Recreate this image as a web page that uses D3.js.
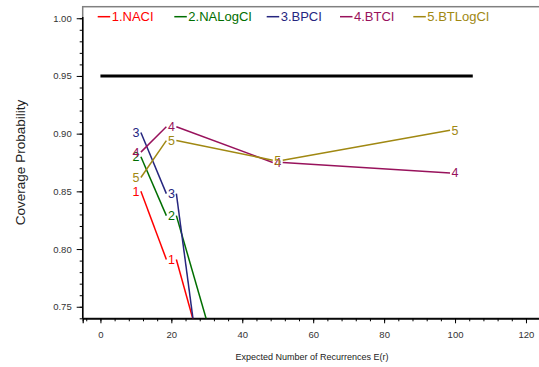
<!DOCTYPE html>
<html>
<head>
<meta charset="utf-8">
<script src="https://cdn.jsdelivr.net/npm/d3@7"></script>
<style>
  html, body { margin: 0; padding: 0; background: #fff; }
  svg { display: block; font-family: Arial, "Liberation Sans", sans-serif; }
</style>
</head>
<body>
<svg id="chart" width="539" height="367"></svg>
<script>
// ---------- data ----------
const xValues = [10, 20, 50, 100];
const seriesNames = ["1.NACI", "2.NALogCI", "3.BPCI", "4.BTCI", "5.BTLogCI"];
const seriesSymbols = ["1", "2", "3", "4", "5"];
const naci     = [0.850, 0.791, 0.49, null];
const naLogCI  = [0.880, 0.829, 0.54, null];
const bpci     = [0.901, 0.848, 0.22, null];
const btci     = [0.884, 0.906, 0.875, 0.866];
const btLogCI  = [0.862, 0.894, 0.877, 0.903];
const seriesColors = ["#ff0000", "#006e00", "#26267f", "#98125c", "#a08812"];
const referenceLevel = 0.95;
const referenceSpan = [0, 105];
const xTickValues = [0, 20, 40, 60, 80, 100, 120];
const yTickValues = [0.75, 0.80, 0.85, 0.90, 0.95, 1.00];
const xLabel = "Expected Number of Recurrences E(r)";
const yLabel = "Coverage Probability";

const allSeries = [naci, naLogCI, bpci, btci, btLogCI];

(function () {
// ---------- layout ----------
const svg = d3.select("#chart");
const pLeft = 82.7, pRight = 543.7, pTop = 6.7, pBottom = 318.3;
const x = d3.scaleLinear().domain([-5, 125]).range([pLeft, pRight]);
const y = d3.scaleLinear().domain([0.74, 1.01]).range([pBottom, pTop]);

svg.append("defs").append("clipPath").attr("id", "plotclip")
  .append("rect").attr("x", pLeft).attr("y", pTop)
  .attr("width", pRight - pLeft).attr("height", pBottom - pTop);

// frame (grey)
svg.append("rect").attr("x", pLeft).attr("y", pTop)
  .attr("width", pRight - pLeft).attr("height", pBottom - pTop)
  .attr("fill", "none").attr("stroke", "#808080").attr("stroke-width", 1.5);

// axes
const tickColor = "#333";
const xAxisMinor = d3.axisBottom(x).tickValues(d3.range(-4, 125, 4)).tickSize(3).tickFormat("");
const xAxis = d3.axisBottom(x).tickValues(xTickValues).tickSize(5).tickPadding(8).tickFormat(d3.format("d"));
const yAxisMinor = d3.axisLeft(y).tickValues(d3.range(74, 101, 1).map(v => v / 100)).tickSize(3).tickFormat("");
const yAxis = d3.axisLeft(y).tickValues(yTickValues).tickSize(6).tickPadding(5).tickFormat(d3.format(".2f"));

function styleAxis(g) {
  g.select(".domain").attr("stroke", "#000").attr("stroke-width", 1.2);
  g.selectAll(".tick line").attr("stroke", "#000").attr("stroke-width", 1);
  g.selectAll(".tick text").attr("fill", tickColor).style("font-size", "9.5px")
    .style("font-family", "Arial, 'Liberation Sans', sans-serif");
}
svg.append("g").attr("transform", `translate(0,${pBottom})`).call(xAxisMinor).call(styleAxis);
svg.append("g").attr("transform", `translate(0,${pBottom})`).call(xAxis).call(styleAxis);
svg.append("g").attr("transform", `translate(${pLeft},0)`).call(yAxisMinor).call(styleAxis)
  .select(".domain").attr("d", `M-0,${y(1.001)}V${pBottom}`);
svg.append("g").attr("transform", `translate(${pLeft},0)`).call(yAxis).call(styleAxis)
  .select(".domain").attr("d", `M-0,${y(1.001)}V${pBottom}`);

// axis titles
svg.append("text").attr("x", 312).attr("y", 359.5).attr("text-anchor", "middle")
  .style("font-size", "9px").attr("fill", "#222").text(xLabel);
svg.append("text").attr("transform", `translate(24.5,162.5) rotate(-90)`)
  .attr("text-anchor", "middle").style("font-size", "13.5px").attr("fill", "#222").text(yLabel);

// reference line
const plot = svg.append("g").attr("clip-path", "url(#plotclip)");
plot.append("line")
  .attr("x1", x(referenceSpan[0])).attr("x2", x(referenceSpan[1]))
  .attr("y1", y(referenceLevel)).attr("y2", y(referenceLevel))
  .attr("stroke", "#000").attr("stroke-width", 3);

// series: segments offset horizontally from the symbol, then symbol text
const gap = 5;
allSeries.forEach((vals, si) => {
  const col = seriesColors[si];
  for (let i = 0; i < vals.length - 1; i++) {
    if (vals[i] == null || vals[i + 1] == null) continue;
    plot.append("line")
      .attr("x1", x(xValues[i]) + gap).attr("y1", y(vals[i]))
      .attr("x2", x(xValues[i + 1]) - gap).attr("y2", y(vals[i + 1]))
      .attr("stroke", col).attr("stroke-width", 1.5);
  }
  vals.forEach((v, i) => {
    if (v == null || v < 0.74) return;
    plot.append("text")
      .attr("x", x(xValues[i])).attr("y", y(v)).attr("dy", "0.36em")
      .attr("text-anchor", "middle").style("font-size", "12.5px")
      .attr("fill", col).text(seriesSymbols[si]);
  });
});

// legend
const legendStarts = [97.7, 174.3, 266.7, 340, 413.3];
const legendY = 16.7;
seriesNames.forEach((name, si) => {
  const g = svg.append("g");
  g.append("line").attr("x1", legendStarts[si]).attr("x2", legendStarts[si] + 12.5)
    .attr("y1", legendY).attr("y2", legendY)
    .attr("stroke", seriesColors[si]).attr("stroke-width", 1.5);
  g.append("text").attr("x", legendStarts[si] + 14).attr("y", legendY + 4.6)
    .style("font-size", "13px").attr("fill", seriesColors[si]).text(name);
});
})();
</script>
</body>
</html>
